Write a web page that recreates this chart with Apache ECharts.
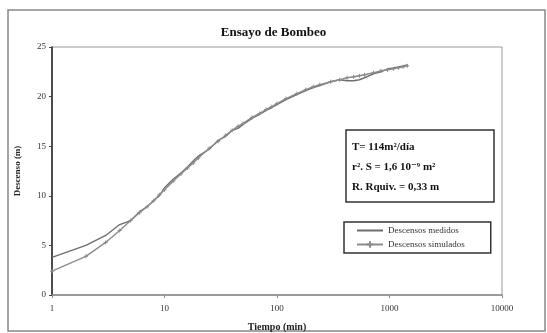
<!DOCTYPE html>
<html>
<head>
<meta charset="utf-8">
<script src="https://cdn.jsdelivr.net/npm/echarts@6/dist/echarts.min.js"></script>
<style>
  html, body { margin: 0; padding: 0; background: #fff; }
  #chart { width: 547px; height: 333px; }
</style>
</head>
<body>
<div id="chart"></div>
<script>
// Pumping test: drawdown versus time (log scale)
const tiempos = [1, 2, 3, 4, 5, 6, 7, 8, 9, 10, 12, 14, 16, 18, 20, 25, 30, 35, 40, 45, 50,
  60, 70, 80, 90, 100, 120, 150, 180, 210, 240, 300, 360, 420, 480, 540, 600, 720, 840,
  960, 1080, 1200, 1320, 1440];

const descensosMedidos = [3.8, 5.0, 6.0, 7.1, 7.5, 8.4, 8.9, 9.5, 10.0, 10.8, 11.7, 12.3, 12.9,
  13.5, 14.0, 14.7, 15.6, 16.0, 16.6, 16.8, 17.2, 17.8, 18.2, 18.6, 18.9, 19.2, 19.7, 20.2,
  20.6, 20.9, 21.1, 21.5, 21.7, 21.6, 21.6, 21.7, 21.9, 22.3, 22.5, 22.8, 22.9, 23.0, 23.1, 23.2];

const descensosSimulados = [2.4, 3.9, 5.3, 6.5, 7.5, 8.3, 8.9, 9.5, 10.1, 10.6, 11.5, 12.2, 12.8,
  13.3, 13.8, 14.8, 15.5, 16.1, 16.6, 17.0, 17.3, 17.9, 18.3, 18.7, 19.0, 19.3, 19.8, 20.3,
  20.7, 21.0, 21.2, 21.5, 21.7, 21.9, 22.0, 22.1, 22.2, 22.4, 22.6, 22.7, 22.8, 22.9, 23.0, 23.1];

const serieNombres = ['Descensos medidos', 'Descensos simulados'];
const notas = ['T= 114m²/día', 'r². S = 1,6 10⁻⁹ m²', 'R. Rquiv. = 0,33 m'];

const serif = '"Liberation Serif", "DejaVu Serif", serif';
const pares = (ys) => tiempos.map((t, i) => [t, ys[i]]);

const chart = echarts.init(document.getElementById('chart'), null, { renderer: 'canvas' });

chart.setOption({
  backgroundColor: '#fff',
  animation: false,
  title: {
    text: 'Ensayo de Bombeo',
    left: 'center',
    top: 21,
    textStyle: { fontFamily: serif, fontWeight: 'bold', fontSize: 13, color: '#111' }
  },
  grid: {
    left: 52, right: 45, top: 47, bottom: 38,
    outerBoundsMode: 'none',
    containLabel: false,
    show: true, borderColor: '#9a9a9a', borderWidth: 1
  },
  legend: {
    orient: 'vertical',
    left: 344, top: 222,
    padding: [4, 26, 4, 12],
    itemGap: 5,
    itemWidth: 26, itemHeight: 8,
    borderColor: '#333', borderWidth: 1.5,
    data: [
      { name: serieNombres[0], itemStyle: { opacity: 0 } },
      { name: serieNombres[1] }
    ],
    textStyle: { fontFamily: serif, fontSize: 9, color: '#333' }
  },
  xAxis: {
    type: 'log',
    logBase: 10,
    min: 1, max: 10000,
    name: 'Tiempo (min)',
    nameLocation: 'middle',
    nameGap: 27,
    nameTextStyle: { fontFamily: serif, fontWeight: 'bold', fontSize: 10, color: '#222' },
    axisLine: { lineStyle: { color: '#8a8a8a', width: 1.5 } },
    axisTick: { length: 3, lineStyle: { color: '#8a8a8a' } },
    minorTick: { show: false },
    splitLine: { show: false },
    axisLabel: {
      fontFamily: serif, fontSize: 9, color: '#333', margin: 9,
      formatter: (v) => String(Math.round(v))
    }
  },
  yAxis: {
    type: 'value',
    min: 0, max: 25, interval: 5,
    name: 'Descenso (m)',
    nameLocation: 'middle',
    nameGap: 30,
    nameTextStyle: { fontFamily: serif, fontWeight: 'bold', fontSize: 9, color: '#222' },
    axisLine: { show: true, lineStyle: { color: '#222', width: 1.5 } },
    axisTick: { show: true, length: 3, lineStyle: { color: '#444' } },
    splitLine: { show: false },
    axisLabel: { fontFamily: serif, fontSize: 9, color: '#333', margin: 6 }
  },
  series: [
    {
      name: serieNombres[0],
      type: 'line',
      data: pares(descensosMedidos),
      showSymbol: false,
      symbol: 'none',
      lineStyle: { color: '#6e6e6e', width: 1.4 },
      itemStyle: { color: '#6e6e6e' }
    },
    {
      name: serieNombres[1],
      type: 'line',
      data: pares(descensosSimulados),
      symbol: 'path://M0,5 L10,5 M5,0 L5,10',
      symbolSize: 4,
      showSymbol: true,
      lineStyle: { color: '#8c8c8c', width: 1.4 },
      itemStyle: { color: '#8c8c8c', borderColor: '#8c8c8c', borderWidth: 1 }
    }
  ],
  graphic: [
    {
      type: 'rect',
      silent: true,
      shape: { x: 8, y: 10, width: 537, height: 321 },
      style: { fill: 'none', stroke: '#888', lineWidth: 1.5 }
    },
    {
      type: 'rect',
      silent: true,
      shape: { x: 346, y: 130, width: 148, height: 72 },
      style: { fill: '#fff', stroke: '#333', lineWidth: 1.5 }
    },
    {
      type: 'text',
      silent: true,
      left: 352, top: 137,
      style: {
        text: notas.join('\n'),
        font: 'bold 11px ' + serif,
        lineHeight: 20,
        fill: '#111'
      }
    }
  ]
});
</script>
</body>
</html>
